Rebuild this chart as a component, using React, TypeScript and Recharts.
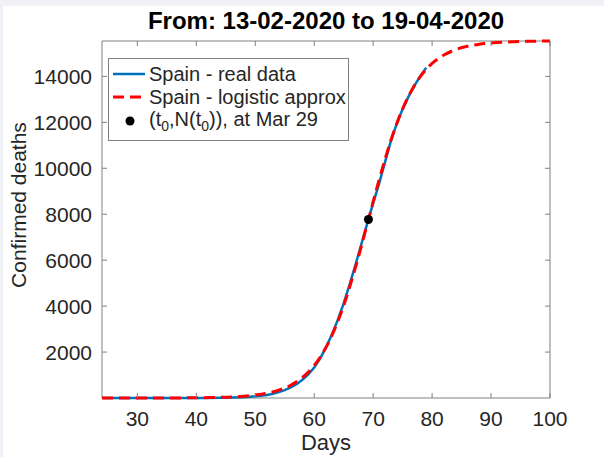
import { ComposedChart, Line, Scatter, XAxis, YAxis, ReferenceArea } from "recharts";

// days counted on the horizontal axis
const realDays = [24, 30, 36, 40, 42, 44, 46, 48, 49, 50, 51, 52, 53, 54, 55, 56, 57, 58, 59, 60, 61, 62, 63, 64, 65, 66, 67, 68, 69, 70, 71, 72, 73, 74, 75, 76, 77, 78, 79];
const realDeaths = [0, 0, 0, 2, 4, 9, 18, 38, 52, 72, 98, 135, 188, 260, 345, 460, 600, 790, 1030, 1330, 1720, 2200, 2760, 3400, 4120, 4930, 5800, 6700, 7600, 8480, 9320, 10260, 11180, 11940, 12580, 13120, 13600, 14010, 14380];

const fitDays = [24, 30, 35, 40, 42, 44, 46, 48, 50, 52, 54, 55, 56, 57, 58, 59, 60, 61, 62, 63, 64, 65, 66, 67, 68, 69, 70, 71, 72, 73, 74, 75, 76, 77, 78, 79, 80, 82, 84, 86, 88, 90, 92, 94, 96, 98, 100];
const fitDeaths = [0, 1, 3, 10, 17, 28, 47, 77, 127, 208, 340, 434, 551, 704, 891, 1125, 1416, 1772, 2205, 2721, 3328, 4028, 4818, 5686, 6613, 7576, 8545, 9490, 10383, 11207, 11942, 12587, 13139, 13604, 13990, 14306, 14562, 14931, 15165, 15310, 15400, 15455, 15490, 15510, 15525, 15533, 15538];

const t0Day = 69.2;
const t0Deaths = 7770;

const xTicks = [30, 40, 50, 60, 70, 80, 90, 100];
const yTicks = [2000, 4000, 6000, 8000, 10000, 12000, 14000];

const realData = realDays.map((d, i) => ({ day: d, deaths: realDeaths[i] }));
const fitData = fitDays.map((d, i) => ({ day: d, deaths: fitDeaths[i] }));
const t0Data = [{ day: t0Day, deaths: t0Deaths }];

const FONT = "'Liberation Sans', Arial, Helvetica, sans-serif";
const TXT = "#262626";
const BOX = "#808080";
const BLUE = "#0072BD";
const RED = "#FF0000";
const TOP = 41;
const RIGHT = 550;

function XTick(props: any) {
  const { x, y, payload } = props;
  return (
    <g>
      <line x1={x} y1={y} x2={x} y2={y - 5} stroke={BOX} />
      <line x1={x} y1={TOP} x2={x} y2={TOP + 5} stroke={BOX} />
      <text x={x} y={y + 28} textAnchor="middle" fontSize={21} fill={TXT} fontFamily={FONT}>
        {payload.value}
      </text>
    </g>
  );
}

function YTick(props: any) {
  const { x, y, payload } = props;
  return (
    <g>
      <line x1={x} y1={y} x2={x + 5} y2={y} stroke={BOX} />
      <line x1={RIGHT} y1={y} x2={RIGHT - 5} y2={y} stroke={BOX} />
      <text x={x - 10} y={y + 7.5} textAnchor="end" fontSize={21} fill={TXT} fontFamily={FONT}>
        {payload.value}
      </text>
    </g>
  );
}

function LegendBox() {
  const row = { display: "flex", alignItems: "center", height: 23.5 } as const;
  return (
    <div
      style={{
        position: "absolute",
        left: 108,
        top: 58,
        width: 241,
        height: 83,
        border: `1px solid ${BOX}`,
        background: "#fff",
        fontFamily: FONT,
        fontSize: 20,
        color: TXT,
        boxSizing: "border-box",
        padding: "3px 0 0 4px",
        lineHeight: 1,
      }}
    >
      <div style={row}>
        <svg width={36} height={10}><line x1={0} y1={5} x2={32} y2={5} stroke={BLUE} strokeWidth={2.5} /></svg>
        <span>Spain - real data</span>
      </div>
      <div style={row}>
        <svg width={36} height={10}><line x1={0} y1={5} x2={32} y2={5} stroke={RED} strokeWidth={3} strokeDasharray="11 6" /></svg>
        <span>Spain - logistic approx</span>
      </div>
      <div style={row}>
        <svg width={36} height={12}><circle cx={17} cy={6} r={4.5} fill="#000" /></svg>
        <span>
          (t<sub style={{ fontSize: 14 }}>0</sub>,N(t<sub style={{ fontSize: 14 }}>0</sub>)), at Mar 29
        </span>
      </div>
    </div>
  );
}

export default function App() {
  return (
    <div style={{ position: "absolute", left: 0, top: 0, width: 604, height: 457, background: "#eff1f6", overflow: "hidden" }}>
      <div style={{ position: "absolute", left: 3, top: 6, width: 601, height: 451, background: "#fff" }} />
      <div
        style={{
          position: "absolute",
          left: 0,
          width: 652,
          top: 7,
          textAlign: "center",
          fontFamily: FONT,
          fontWeight: "bold",
          fontSize: 24,
          color: "#000",
        }}
      >
        From: 13-02-2020 to 19-04-2020
      </div>
      <div
        style={{
          position: "absolute",
          left: 19,
          top: 205,
          transform: "translate(-50%, -50%) rotate(-90deg)",
          whiteSpace: "nowrap",
          fontFamily: FONT,
          fontSize: 21,
          color: TXT,
        }}
      >
        Confirmed deaths
      </div>
      <div
        style={{
          position: "absolute",
          left: 326,
          top: 431,
          transform: "translateX(-50%)",
          fontFamily: FONT,
          fontSize: 22,
          lineHeight: "24px",
          color: TXT,
        }}
      >
        Days
      </div>
      <div style={{ position: "absolute", left: 0, top: 0 }}>
        <ComposedChart width={604} height={457} margin={{ top: TOP, right: 604 - RIGHT, bottom: 0, left: 0 }}>
          <XAxis
            dataKey="day"
            type="number"
            domain={[24, 100]}
            ticks={xTicks}
            height={59}
            tickSize={0}
            tickMargin={0}
            axisLine={false}
            tickLine={false}
            tick={<XTick />}
            allowDuplicatedCategory={false}
          />
          <YAxis
            dataKey="deaths"
            type="number"
            domain={[0, 15540]}
            ticks={yTicks}
            width={102}
            tickSize={0}
            tickMargin={0}
            axisLine={false}
            tickLine={false}
            tick={<YTick />}
          />
          <ReferenceArea x1={24} x2={100} y1={0} y2={15540} fill="none" stroke={BOX} strokeWidth={1} />
          <Line
            data={realData}
            dataKey="deaths"
            type="linear"
            stroke={BLUE}
            strokeWidth={2.5}
            dot={false}
            isAnimationActive={false}
            name="Spain - real data"
          />
          <Line
            data={fitData}
            dataKey="deaths"
            type="monotone"
            stroke={RED}
            strokeWidth={3}
            strokeDasharray="11 6"
            dot={false}
            isAnimationActive={false}
            name="Spain - logistic approx"
          />
          <Scatter data={t0Data} dataKey="deaths" fill="#000" shape={(p: any) => <circle cx={p.cx} cy={p.cy} r={4.5} fill="#000" />} isAnimationActive={false} />
        </ComposedChart>
      </div>
      <LegendBox />
    </div>
  );
}
